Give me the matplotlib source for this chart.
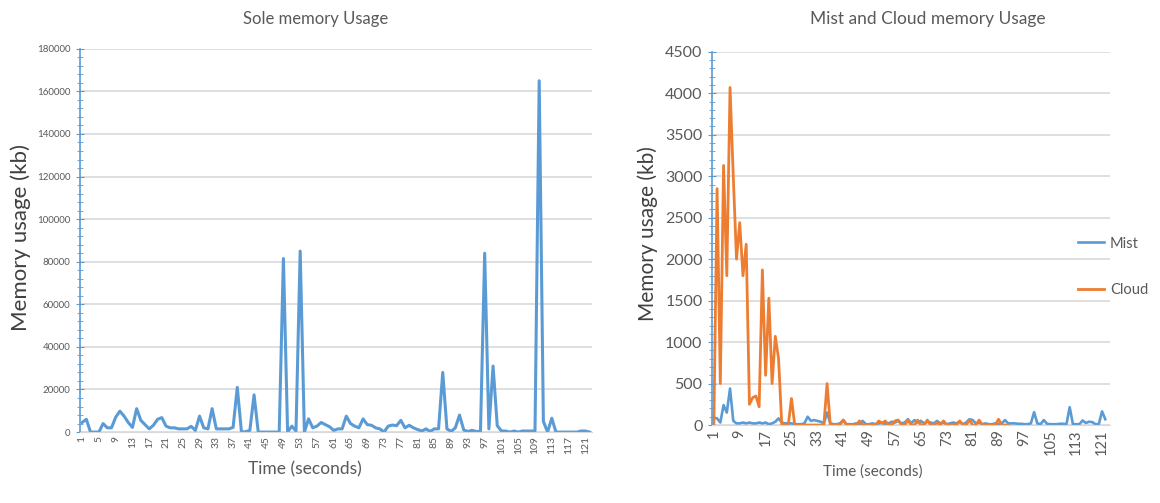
import numpy as np
import matplotlib.pyplot as plt
from matplotlib.ticker import MultipleLocator

plt.rcParams['font.family'] = ['Lato', 'DejaVu Sans']

# memory used per second (kb), single-node run
sole = [4500, 6000, 0, 0, 0, 4000, 2000, 2000, 7000, 9800,
        7500, 4500, 2200, 11000, 5500, 3500, 1500, 3200, 6000, 6800,
        2800, 2000, 2000, 1500, 1500, 1500, 2700, 800, 7500, 2000,
        1500, 11000, 1500, 1500, 1500, 1500, 2200, 21000, 0, 200,
        800, 17500, 0, 0, 0, 0, 0, 0, 81500, 0,
        2800, 500, 85000, 0, 6200, 2000, 2800, 4500, 3500, 2500,
        800, 1500, 1500, 7500, 4000, 2800, 2000, 6200, 3500, 3200,
        2000, 1500, 0, 2800, 3300, 3000, 5500, 2000, 3200, 2000,
        1200, 500, 1500, 300, 1500, 1500, 28000, 1500, 300, 2000,
        8000, 1000, 300, 800, 300, 300, 84000, 1500, 31000, 3000,
        500, 500, 0, 500, 0, 500, 500, 500, 500, 165000,
        5000, 0, 6500, 0, 0, 0, 0, 0, 0, 500,
        500, 0]

# mist / cloud split run
mist = [90, 80, 30, 240, 150, 440, 50, 20, 20, 30,
        20, 30, 20, 20, 30, 20, 30, 10, 20, 40,
        80, 30, 20, 20, 20, 10, 10, 10, 20, 100,
        50, 60, 50, 40, 20, 150, 20, 10, 10, 20,
        60, 10, 10, 10, 20, 10, 50, 10, 10, 20,
        10, 20, 30, 10, 20, 40, 30, 50, 20, 30,
        70, 20, 60, 30, 50, 20, 40, 30, 20, 50,
        20, 30, 10, 20, 30, 20, 40, 10, 30, 70,
        60, 20, 30, 10, 20, 10, 10, 20, 10, 20,
        60, 20, 20, 20, 15, 15, 10, 10, 20, 155,
        20, 10, 60, 15, 10, 10, 10, 15, 15, 10,
        215, 10, 10, 10, 55, 25, 40, 35, 10, 10,
        165, 70]

cloud = [0, 2850, 500, 3130, 1800, 4070, 3000, 2000, 2440, 1800,
         2180, 250, 330, 350, 220, 1870, 600, 1530, 500, 1070,
         800, 0, 0, 0, 320, 0, 0, 0, 0, 0,
         0, 0, 0, 0, 0, 500, 0, 0, 0, 0,
         60, 0, 0, 0, 0, 50, 0, 0, 0, 0,
         0, 50, 20, 50, 0, 0, 50, 60, 0, 0,
         60, 0, 0, 60, 0, 0, 60, 0, 0, 30,
         0, 50, 0, 0, 0, 0, 50, 0, 0, 60,
         0, 0, 60, 0, 0, 0, 0, 0, 70, 0,
         0, 0]

blue = '#5B9BD5'
orange = '#ED7D31'
txt = '#595959'
grid = '#D9D9D9'

fig = plt.figure(figsize=(11.6, 5.03), dpi=100)
ax1 = fig.add_axes([0.069, 0.141, 0.441, 0.762])
ax2 = fig.add_axes([0.614, 0.155, 0.343, 0.742])


def style(ax, ymax, major, minor, ysize, xsize, xstep, n):
    ax.set_ylim(0, ymax)
    ax.yaxis.set_major_locator(MultipleLocator(major))
    ax.yaxis.set_minor_locator(MultipleLocator(minor))
    ax.set_xticks(np.arange(1, n + 1, xstep))
    ax.tick_params(axis='x', length=0, labelsize=xsize, labelcolor=txt,
                   rotation=90, pad=3)
    ax.tick_params(axis='y', which='major', direction='inout', length=6,
                   color=blue, labelsize=ysize, labelcolor=txt, pad=4)
    ax.tick_params(axis='y', which='minor', direction='inout', length=5,
                   color=blue)
    for s in ['top', 'right']:
        ax.spines[s].set_visible(False)
    ax.spines['bottom'].set_color(grid)
    ax.spines['left'].set_color(blue)
    ax.spines['left'].set_linewidth(1.2)
    ax.grid(axis='y', color=grid, linewidth=1.2)
    ax.set_axisbelow(True)


x1 = np.arange(1, len(sole) + 1)
ax1.plot(x1, sole, color=blue, lw=2.2)
ax1.set_xlim(0.5, len(sole) + 0.5)
style(ax1, 180000, 20000, 4000, 7, 7.5, 4, len(sole))

x2 = np.arange(1, len(mist) + 1)
ax2.plot(x2, mist, color=blue, lw=1.9, label='Mist')
ax2.plot(x2[:len(cloud)], cloud, color=orange, lw=2.0, label='Cloud')
ax2.set_xlim(0.5, len(mist) + 1.5)
style(ax2, 4500, 500, 100, 11.5, 10.5, 8, len(mist))

fig.legend(loc='center left', bbox_to_anchor=(0.918, 0.47), frameon=False,
           fontsize=10.5, labelspacing=2.2, handlelength=1.8,
           handletextpad=0.4, labelcolor=txt)

fig.text(0.272, 0.963, 'Sole memory Usage', ha='center', va='center',
         fontsize=12, color=txt)
fig.text(0.800, 0.963, 'Mist and Cloud memory Usage', ha='center',
         va='center', fontsize=12.5, color=txt)
fig.text(0.263, 0.066, 'Time (seconds)', ha='center', va='center',
         fontsize=12.5, color=txt)
fig.text(0.752, 0.062, 'Time (seconds)', ha='center', va='center',
         fontsize=11, color=txt)
fig.text(0.018, 0.528, 'Memory usage (kb)', rotation=90, ha='center',
         va='center', fontsize=16, color='#404040')
fig.text(0.558, 0.535, 'Memory usage (kb)', rotation=90, ha='center',
         va='center', fontsize=15, color='#404040')

fig.savefig('out.png', dpi=100)
